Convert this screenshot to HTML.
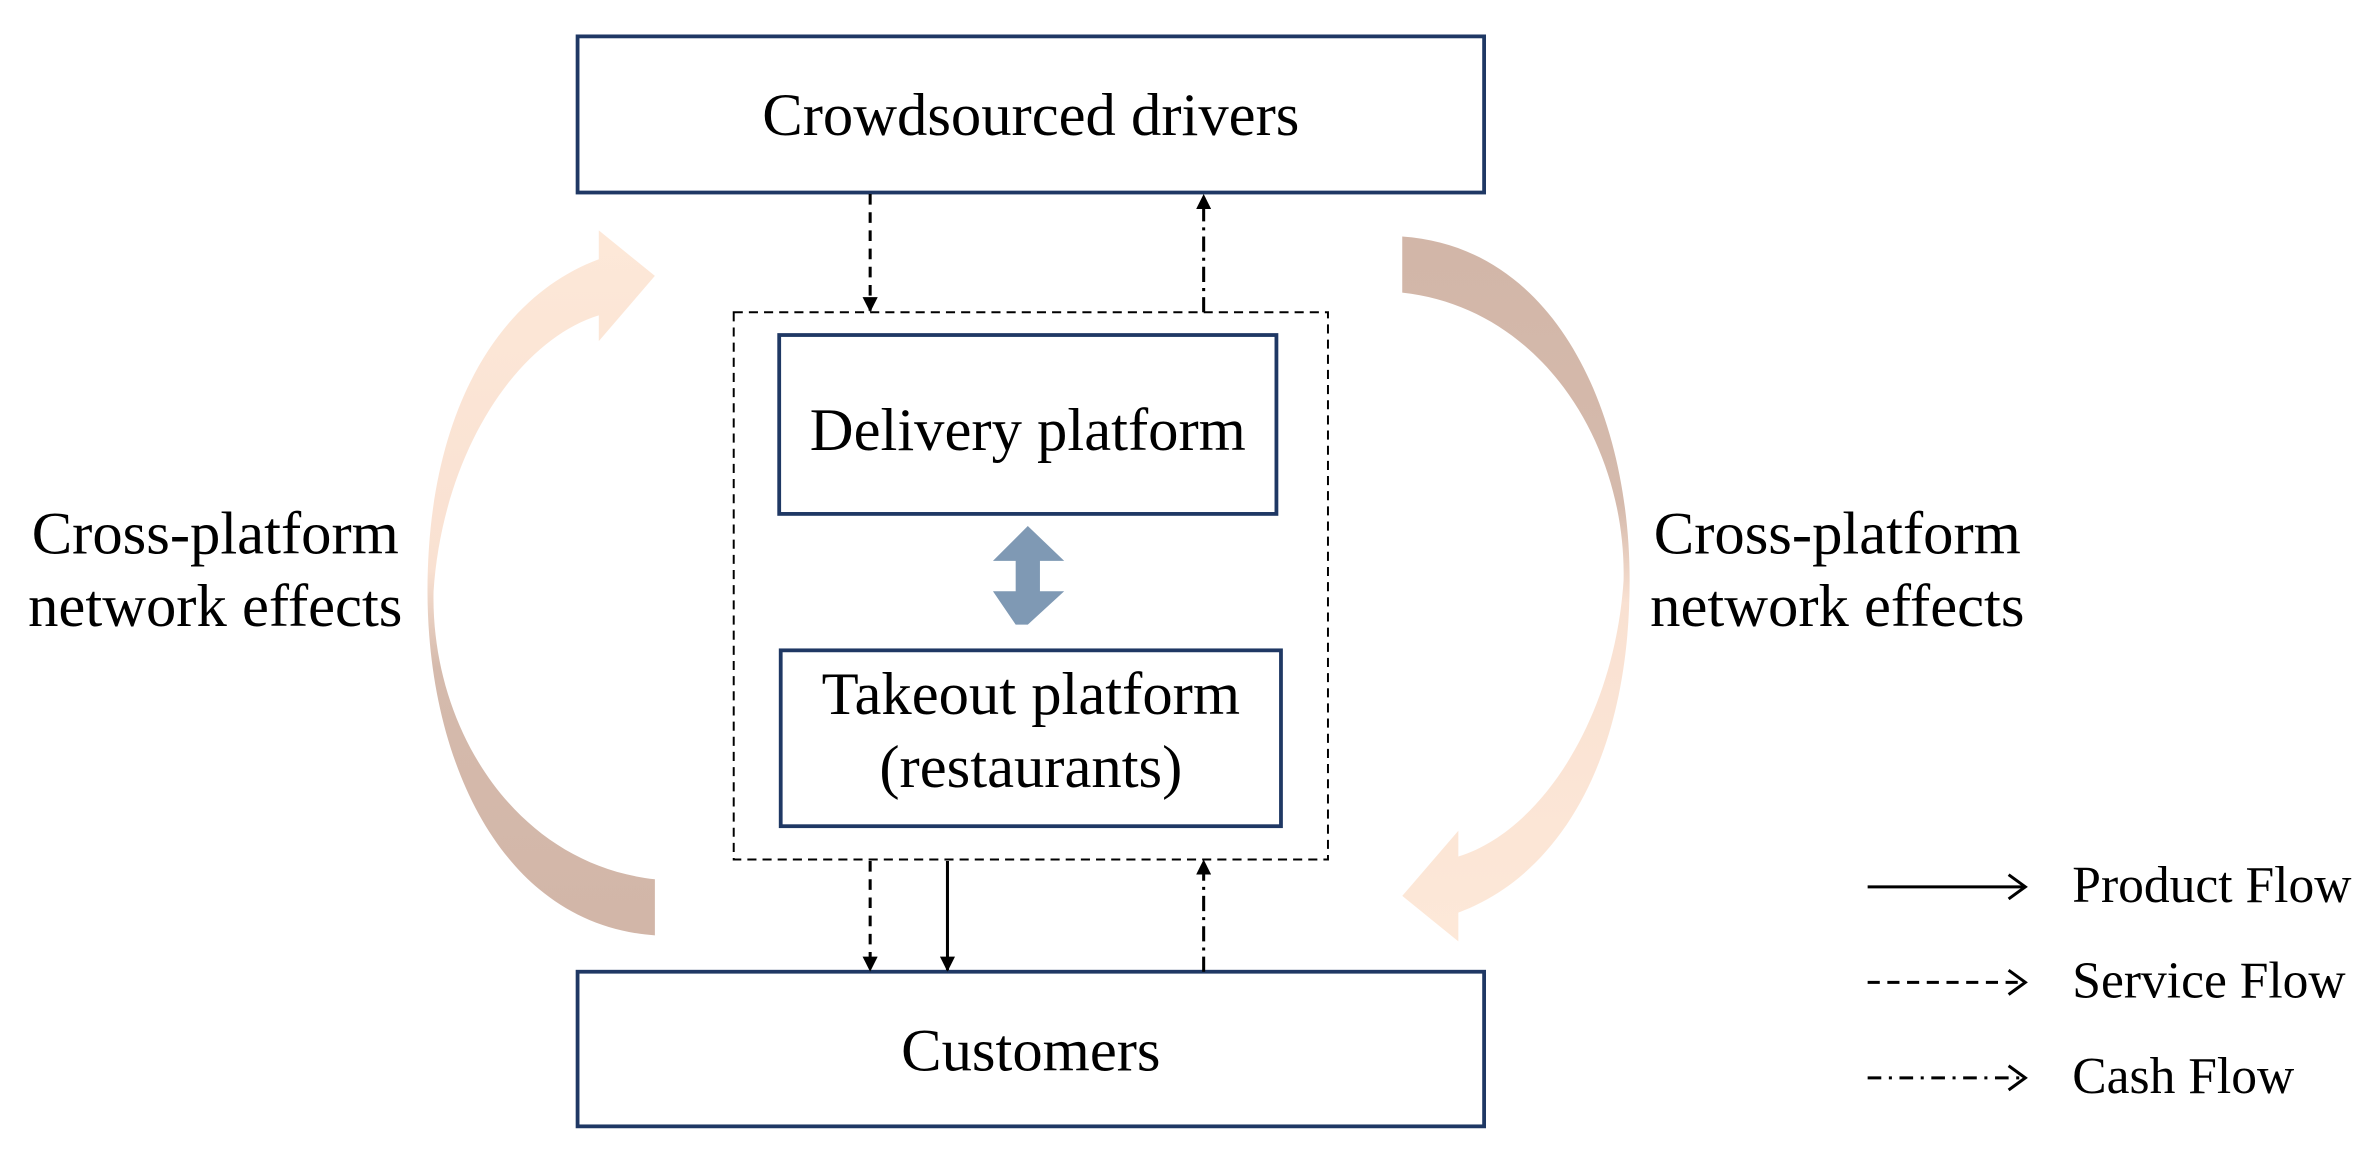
<!DOCTYPE html>
<html><head><meta charset="utf-8"><style>html,body{margin:0;padding:0;background:#fff}svg{display:block}</style></head><body>
<svg width="2377" height="1150" viewBox="0 0 1568 758.6" preserveAspectRatio="none" xmlns="http://www.w3.org/2000/svg" font-family="'Liberation Serif', serif">
<defs>
<linearGradient id="g" x1="0" y1="0" x2="0" y2="1">
<stop offset="0" stop-color="#fde8d8"/><stop offset="0.48" stop-color="#f9e1d2"/><stop offset="0.62" stop-color="#d5baac"/><stop offset="1" stop-color="#d2b6a8"/>
</linearGradient>
<marker id="ah" markerWidth="10" markerHeight="10" refX="9" refY="5" orient="auto" markerUnits="userSpaceOnUse"><path d="M0,0 L10,5 L0,10 Z" fill="#000"/></marker>
</defs>
<path d="M432,617 C330,610 282,500 282,390 C282,270 330,195 395,171 L395,152 L432,182 L395,225 L395,208 C340,225 292,300 286,390 C284,480 340,570 432,580 Z" fill="url(#g)"/>
<g transform="translate(1357,773) scale(-1,-1)"><path d="M432,617 C330,610 282,500 282,390 C282,270 330,195 395,171 L395,152 L432,182 L395,225 L395,208 C340,225 292,300 286,390 C284,480 340,570 432,580 Z" fill="url(#g)"/></g>
<g fill="#fff" stroke="#1f3864" stroke-width="2.5">
<rect x="381" y="24" width="598" height="103"/>
<rect x="514" y="221" width="328" height="118"/>
<rect x="515" y="429" width="330" height="116"/>
<rect x="381" y="641" width="598" height="102"/>
</g>
<rect x="484" y="206" width="392" height="361" fill="none" stroke="#000" stroke-width="1.3" stroke-dasharray="6,4"/>
<path d="M670,412 L655,390 L670,390 L670,370 L655,370 L678,347 L702,370 L686,370 L686,390 L702,390 L678,412 Z" fill="#7f99b4"/>
<g stroke="#000" stroke-width="2" fill="none">
<line x1="574" y1="128" x2="574" y2="205" stroke-dasharray="7,5" marker-end="url(#ah)"/>
<line x1="794" y1="206" x2="794" y2="129" stroke-dasharray="10,4,2,4" marker-end="url(#ah)"/>
<line x1="574" y1="568" x2="574" y2="640" stroke-dasharray="7,5" marker-end="url(#ah)"/>
<line x1="625" y1="568" x2="625" y2="640" marker-end="url(#ah)"/>
<line x1="794" y1="641" x2="794" y2="568" stroke-dasharray="10,4,2,4" marker-end="url(#ah)"/>
<line x1="1232" y1="585" x2="1335" y2="585"/>
<line x1="1232" y1="648" x2="1335" y2="648" stroke-dasharray="8,5"/>
<line x1="1232" y1="711" x2="1335" y2="711" stroke-dasharray="9,5,2,5"/>
<path d="M1325,577 L1336,585 L1325,593 M1325,640 L1336,648 L1325,656 M1325,703 L1336,711 L1325,719"/>
</g>
<g font-size="40" fill="#000" text-anchor="middle">
<text x="680" y="89">Crowdsourced drivers</text>
<text x="678" y="297">Delivery platform</text>
<text x="680" y="471">Takeout platform</text>
<text x="680" y="519">(restaurants)</text>
<text x="680" y="706">Customers</text>
<text x="142" y="365">Cross-platform</text>
<text x="142" y="413">network effects</text>
<text x="1212" y="365">Cross-platform</text>
<text x="1212" y="413">network effects</text>
</g>
<g font-size="34" fill="#000">
<text x="1367" y="595">Product Flow</text>
<text x="1367" y="658">Service Flow</text>
<text x="1367" y="721">Cash Flow</text>
</g>
</svg>
</body></html>
